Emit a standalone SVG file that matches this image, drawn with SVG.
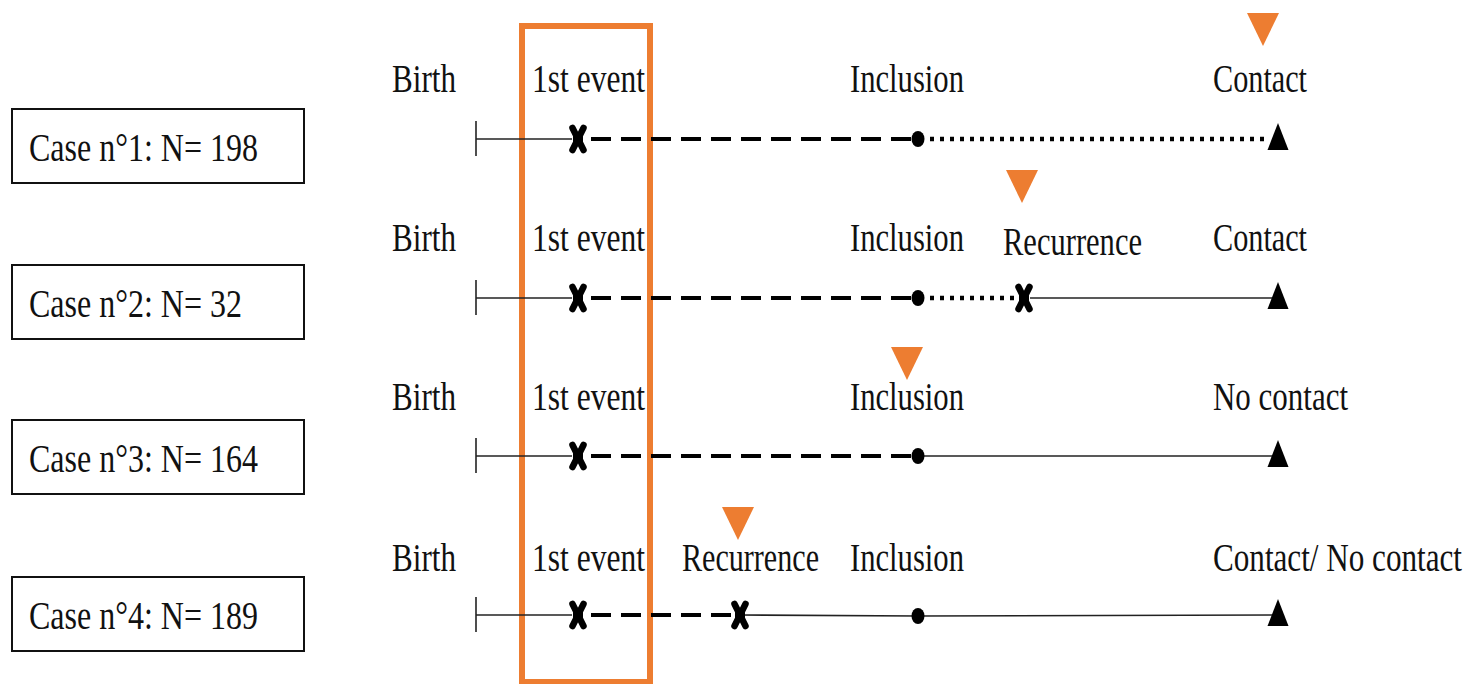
<svg xmlns="http://www.w3.org/2000/svg" xmlns:xlink="http://www.w3.org/1999/xlink" width="1473" height="684" viewBox="0 0 1473 684">
<style>
text{font-family:"Liberation Serif","Times New Roman",serif;font-size:41px;fill:#111;}
.box{fill:#fff;stroke:#111;stroke-width:2;}
.solid{stroke:#222;stroke-width:1.6;fill:none;}
.dash{stroke:#000;stroke-width:4;stroke-dasharray:20 10;fill:none;}
.dot{stroke:#000;stroke-width:4.5;stroke-dasharray:4 6;fill:none;}
.tri{fill:#ED7D31;}
</style>
<defs>
<g id="xmark"><path d="M-5.5,-11 L5.5,11 M5.5,-11 L-5.5,11" stroke="#000" stroke-width="6.5" stroke-linecap="round" fill="none"/><rect x="-5" y="-5" width="10" height="10" fill="#000"/></g>
<polygon id="endtri" points="0,-15 10.5,12 -10.5,12" fill="#000"/>
<ellipse id="incl" rx="6.5" ry="8" fill="#000"/>
<polygon id="otri" points="-16,0 16,0 0,33" class="tri"/>
</defs>
<rect id="highlight" x="522" y="26" width="128" height="656" fill="none" stroke="#ED7D31" stroke-width="6"/>
<g id="case1"><rect class="box" x="12" y="109" width="292" height="74"/><text x="29" y="161" textLength="229" lengthAdjust="spacingAndGlyphs">Case n°1: N= 198</text></g>
<g id="case2"><rect class="box" x="12" y="265" width="292" height="74"/><text x="29" y="317" textLength="213" lengthAdjust="spacingAndGlyphs">Case n°2: N= 32</text></g>
<g id="case3"><rect class="box" x="12" y="420" width="292" height="74"/><text x="29" y="472" textLength="229" lengthAdjust="spacingAndGlyphs">Case n°3: N= 164</text></g>
<g id="case4"><rect class="box" x="12" y="577" width="292" height="74"/><text x="29" y="629" textLength="229" lengthAdjust="spacingAndGlyphs">Case n°4: N= 189</text></g>
<g id="connectors">
<line class="solid" x1="476" y1="121" x2="476" y2="156"/><line class="solid" x1="476" y1="139" x2="572" y2="139"/>
<line class="dash" x1="591" y1="139" x2="912" y2="139"/><line class="dot" x1="930" y1="139" x2="1270" y2="139"/>
<line class="solid" x1="476" y1="280" x2="476" y2="315"/><line class="solid" x1="476" y1="298" x2="572" y2="298"/>
<line class="dash" x1="591" y1="298" x2="912" y2="298"/><line class="dot" x1="930" y1="298" x2="1014" y2="298"/><line class="solid" x1="1030" y1="298" x2="1272" y2="298"/>
<line class="solid" x1="476" y1="438" x2="476" y2="473"/><line class="solid" x1="476" y1="456" x2="572" y2="456"/>
<line class="dash" x1="591" y1="456" x2="912" y2="456"/><line class="solid" x1="918" y1="456" x2="1272" y2="456"/>
<line class="solid" x1="476" y1="597" x2="476" y2="632"/><line class="solid" x1="476" y1="615" x2="572" y2="615"/>
<line class="dash" x1="591" y1="615" x2="734" y2="615"/><line class="solid" x1="740" y1="615" x2="918" y2="616"/><line class="solid" x1="918" y1="616" x2="1272" y2="615"/>
</g>
<g id="row1">
<text x="392" y="92" textLength="64" lengthAdjust="spacingAndGlyphs">Birth</text>
<text x="532" y="92" textLength="113" lengthAdjust="spacingAndGlyphs">1st event</text>
<text x="850" y="92" textLength="114" lengthAdjust="spacingAndGlyphs">Inclusion</text>
<text x="1213" y="92" textLength="94" lengthAdjust="spacingAndGlyphs">Contact</text>
<use xlink:href="#xmark" x="578" y="139"/><use xlink:href="#incl" x="918" y="139"/><use xlink:href="#endtri" x="1278" y="138"/>
<use xlink:href="#otri" x="1263" y="13"/>
</g>
<g id="row2">
<text x="392" y="251" textLength="64" lengthAdjust="spacingAndGlyphs">Birth</text>
<text x="532" y="251" textLength="113" lengthAdjust="spacingAndGlyphs">1st event</text>
<text x="850" y="251" textLength="114" lengthAdjust="spacingAndGlyphs">Inclusion</text>
<text x="1003" y="255" textLength="139" lengthAdjust="spacingAndGlyphs">Recurrence</text>
<text x="1213" y="251" textLength="94" lengthAdjust="spacingAndGlyphs">Contact</text>
<use xlink:href="#xmark" x="578" y="298"/><use xlink:href="#incl" x="918" y="298"/><use xlink:href="#xmark" x="1024" y="298"/><use xlink:href="#endtri" x="1278" y="297"/>
<use xlink:href="#otri" x="1022" y="170"/>
</g>
<g id="row3">
<text x="392" y="410" textLength="64" lengthAdjust="spacingAndGlyphs">Birth</text>
<text x="532" y="410" textLength="113" lengthAdjust="spacingAndGlyphs">1st event</text>
<text x="850" y="410" textLength="114" lengthAdjust="spacingAndGlyphs">Inclusion</text>
<text x="1213" y="410" textLength="135" lengthAdjust="spacingAndGlyphs">No contact</text>
<use xlink:href="#xmark" x="578" y="456"/><use xlink:href="#incl" x="918" y="456"/><use xlink:href="#endtri" x="1278" y="455"/>
<use xlink:href="#otri" x="907" y="347"/>
</g>
<g id="row4">
<text x="392" y="571" textLength="64" lengthAdjust="spacingAndGlyphs">Birth</text>
<text x="532" y="571" textLength="113" lengthAdjust="spacingAndGlyphs">1st event</text>
<text x="682" y="571" textLength="137" lengthAdjust="spacingAndGlyphs">Recurrence</text>
<text x="850" y="571" textLength="114" lengthAdjust="spacingAndGlyphs">Inclusion</text>
<text x="1213" y="571" textLength="249" lengthAdjust="spacingAndGlyphs">Contact/ No contact</text>
<use xlink:href="#xmark" x="578" y="615"/><use xlink:href="#xmark" x="740" y="615"/><use xlink:href="#incl" x="918" y="616"/><use xlink:href="#endtri" x="1278" y="614"/>
<use xlink:href="#otri" x="738" y="507"/>
</g>
</svg>
